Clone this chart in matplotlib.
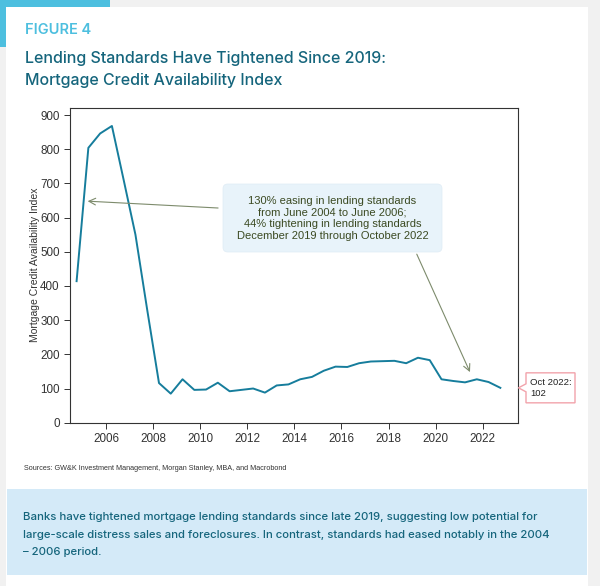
import numpy as np
import matplotlib
matplotlib.use("Agg")
import matplotlib.pyplot as plt
from matplotlib.patches import Rectangle, FancyBboxPatch, Polygon

# semiannual readings of the MBA Mortgage Credit Availability Index
dates = ["2004-10", "2005-04", "2005-10", "2006-04", "2006-10", "2007-04", "2007-10",
         "2008-04", "2008-10", "2009-04", "2009-10", "2010-04", "2010-10", "2011-04",
         "2011-10", "2012-04", "2012-10", "2013-04", "2013-10", "2014-04", "2014-10",
         "2015-04", "2015-10", "2016-04", "2016-10", "2017-04", "2017-10", "2018-04",
         "2018-10", "2019-04", "2019-10", "2020-04", "2020-10", "2021-04", "2021-10",
         "2022-04", "2022-10"]
mcai = [414, 804, 846, 868, 710, 550, 330,
        116, 85, 127, 96, 97, 117, 92,
        96, 100, 88, 109, 112, 127, 134,
        152, 164, 163, 174, 179, 180, 181,
        174, 190, 183, 127, 122, 118, 127,
        119, 102]
x_ticks = [2006, 2008, 2010, 2012, 2014, 2016, 2018, 2020, 2022]
y_ticks = [0, 100, 200, 300, 400, 500, 600, 700, 800, 900]

note = ("130% easing in lending standards\nfrom June 2004 to June 2006;\n"
        "44% tightening in lending standards\nDecember 2019 through October 2022")
last_label = "Oct 2022:\n102"

# decimal year of each reading
xs = [int(d[:4]) + (int(d[5:]) - 1) / 12 for d in dates]

W, H = 600, 586
fig = plt.figure(figsize=(W / 100, H / 100), dpi=100)
fig.patch.set_facecolor("#f1f1f1")

def fx(x):
    return x / W

def fy(y):
    return 1 - y / H

def px(x0, y0, w, h, **kw):
    # rectangle in pixel coords from the top-left corner, kept behind the axes
    fig.patches.append(Rectangle((fx(x0), fy(y0 + h)), w / W, h / H,
                                 transform=fig.transFigure, zorder=-10, **kw))

px(6, 7, 582, 579, facecolor="white", edgecolor="none")
px(0, 0, 110, 7, facecolor="#4dbfdf", edgecolor="none")
px(0, 0, 6, 47, facecolor="#4dbfdf", edgecolor="none")
px(7, 489, 580, 86, facecolor="#d4eaf8", edgecolor="none")

head_font = ["Inter", "DejaVu Sans"]
fig.text(fx(25), fy(30), "FIGURE 4", color="#4dbfdf", fontsize=10.5,
         fontweight="semibold", family=head_font, va="center")
fig.text(fx(25), fy(59), "Lending Standards Have Tightened Since 2019:",
         color="#15657c", fontsize=11.5, fontweight="medium", family=head_font, va="center")
fig.text(fx(25), fy(81), "Mortgage Credit Availability Index",
         color="#15657c", fontsize=11.5, fontweight="medium", family=head_font, va="center")
fig.text(fx(24), fy(469), "Sources: GW&K Investment Management, Morgan Stanley, MBA, and Macrobond",
         color="#333333", fontsize=5.2, family="Liberation Sans", va="center")
body = ["Banks have tightened mortgage lending standards since late 2019, suggesting low potential for",
        "large-scale distress sales and foreclosures. In contrast, standards had eased notably in the 2004",
        "\u2013 2006 period."]
for i, line in enumerate(body):
    fig.text(fx(23), fy(517 + 17.5 * i), line, color="#15657c", fontsize=8.2,
             fontweight="medium", family=head_font, va="center")

ax = fig.add_axes([fx(70), fy(422.7), 448 / W, 315.2 / H])
ax.plot(xs, mcai, color="#167d9c", lw=1.4)
ax.set_xlim(2004.47, 2023.5)
ax.set_ylim(0, 922)
ax.set_xticks(x_ticks)
ax.set_yticks(y_ticks)
for s in ax.spines.values():
    s.set_color("#333333")
    s.set_linewidth(0.8)
ax.tick_params(direction="out", length=4, width=0.7, color="#333333",
               labelsize=8.4, labelcolor="#333333")
for lab in ax.get_xticklabels() + ax.get_yticklabels():
    lab.set_family("Liberation Sans")
ax.set_ylabel("Mortgage Credit Availability Index", fontsize=7.5, color="#333333",
              family="Liberation Sans", labelpad=0)

# note box with two arrows
fig.patches.append(FancyBboxPatch((fx(223), fy(252)), 219 / W, 68 / H,
                                  boxstyle="round,pad=0,rounding_size=0.008",
                                  transform=fig.transFigure, facecolor="#e8f3fa",
                                  edgecolor="#dfecf5", lw=0.5, zorder=5))
fig.text(fx(332.5), fy(218.5), note, ha="center", va="center", fontsize=8,
         color="#3b4a22", family="Liberation Sans", linespacing=1.17, zorder=6)
arrow_kw = dict(arrowstyle="->", color="#7d8b6c", lw=0.8, shrinkA=0, shrinkB=0,
                mutation_scale=12)
ax.annotate("", xy=(2005.22, 648), xytext=(2010.76, 628), arrowprops=arrow_kw)
ax.annotate("", xy=(2021.46, 148), xytext=(2019.2, 493), arrowprops=arrow_kw)

# callout with the last reading, pointing at the right edge of the axes
tip_y = 422.7 - mcai[-1] * 315.2 / 922
callout = [(526, tip_y - 15), (575, tip_y - 15), (575, tip_y + 15), (526, tip_y + 15),
           (526, tip_y + 4), (518.5, tip_y), (526, tip_y - 4)]
fig.patches.append(Polygon([(fx(a), fy(b)) for a, b in callout], closed=True,
                           transform=fig.transFigure, facecolor="white",
                           edgecolor="#f2a3ab", lw=1.0, zorder=5))
fig.text(fx(530), fy(tip_y), last_label, ha="left", va="center", fontsize=6.8,
         color="#222222", family="Liberation Sans", linespacing=1.2, zorder=6)

fig.savefig("out.png", dpi=100, facecolor=fig.get_facecolor())
